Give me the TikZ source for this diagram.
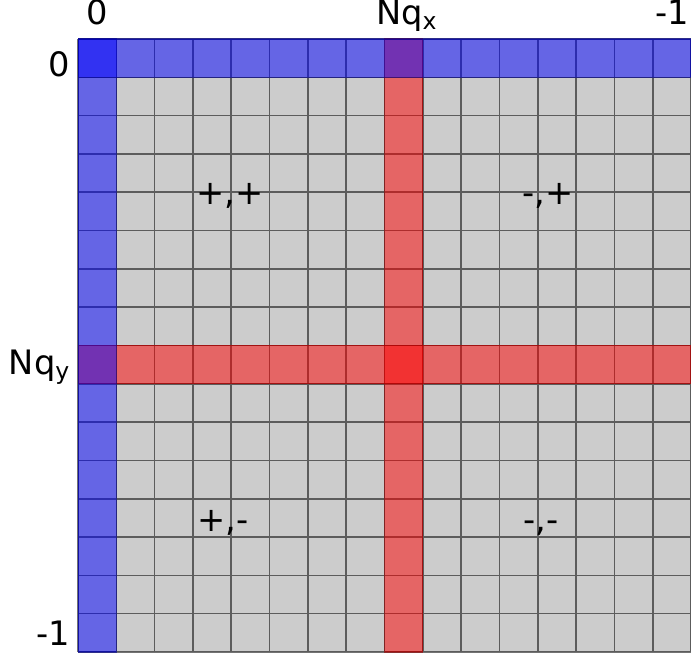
\documentclass[tikz,border=0pt]{standalone}
\usepackage{fontspec}
\setmainfont{DejaVu Sans}
\begin{document}
\begin{tikzpicture}[
		cellline/.style={black, opacity=.55, line width=1.2pt},
		redstrip/.style={fill=red, fill opacity=.5, draw=red!60!black, draw opacity=.6, line width=.8pt},
		bluestrip/.style={fill=blue, fill opacity=.5, draw=blue!60!black, draw opacity=.6, line width=.8pt},
		axislbl/.style={font=\fontsize{25}{30}\selectfont, inner sep=0pt},
		signlbl/.style={font=\fontsize{25}{30}\selectfont, inner sep=0pt, anchor=base}]
		\useasboundingbox (-2.037, 1.018) rectangle (16, -16.136);
		\fill[gray!40] (0, 0) rectangle (16, -16);
		\draw[cellline] (0, 0) grid (16, -16);
		% the zero and Nq rows and columns
		\draw[redstrip] (8, 0) rectangle (9, -16);
		\draw[redstrip] (0, -8) rectangle (16, -9);
		\draw[bluestrip] (0, 0) rectangle (1, -16);
		\draw[bluestrip] (0, 0) rectangle (16, -1);
		\node[axislbl, anchor=base] (col_zero) at (.5, .39) {0};
		\node[axislbl, anchor=base] (col_nq) at (8.58, .39) {Nq\textsubscript{x}};
		\node[axislbl, anchor=base] (col_last) at (15.5, .39) {-1};
		\node[axislbl, anchor=base east] (row_zero) at (-.2, -.98) {0};
		\node[axislbl, anchor=base east] (row_nq) at (-.2, -8.75) {Nq\textsubscript{y}};
		\node[axislbl, anchor=base east] (row_last) at (-.2, -15.82) {-1};
		\node[signlbl] (pp) at (3.96, -4.32) {+,+};
		\node[signlbl] (mp) at (12.27, -4.32) {-,+};
		\node[signlbl] (pm) at (3.79, -12.86) {+,-};
		\node[signlbl] (mm) at (12.09, -12.86) {-,-};
	\end{tikzpicture}
\end{document}
